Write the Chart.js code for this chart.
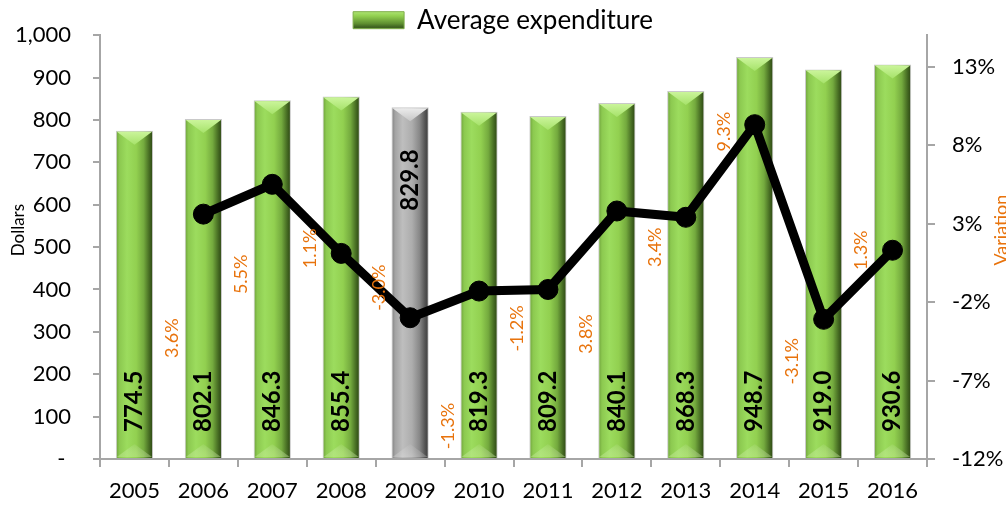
<!DOCTYPE html>
<html><head><meta charset="utf-8">
<script src="https://cdn.jsdelivr.net/npm/chart.js@4/dist/chart.umd.min.js"></script>
<style>html,body{margin:0;padding:0;background:#fff;overflow:hidden}</style>
</head><body>
<canvas id="c" width="1006" height="506"></canvas>
<script>
// ---- data ----
const years = ['2005','2006','2007','2008','2009','2010','2011','2012','2013','2014','2015','2016'];
const expenditure = [774.5, 802.1, 846.3, 855.4, 829.8, 819.3, 809.2, 840.1, 868.3, 948.7, 919.0, 930.6];
const variation = [null, 3.6, 5.5, 1.1, -3.0, -1.3, -1.2, 3.8, 3.4, 9.3, -3.1, 1.3];
const variationTicks = [-12, -7, -2, 3, 8, 13];
const highlightYear = '2009';
// label placement (pixel shift of each % label from its point)
const varLabelShift = [0, 124, 90, -5, -30, 135, 39, 123, 30, 7, 42, 0];

const FONT = 'Lato, "Open Sans", sans-serif';
Chart.defaults.font.family = FONT;
const ORANGE = '#E8730C';
const AXIS = '#A6A6A6';
const BAR_PCT = 0.54;

function barGradient(c) {
  const chart = c.chart;
  const xs = chart.scales && chart.scales.x;
  const gray = years[c.dataIndex] === highlightYear;
  if (!xs || c.type !== 'data') return gray ? '#AAAAAA' : '#92D050';
  const cx = xs.getPixelForValue(c.dataIndex);
  const w = (xs.width / years.length) * BAR_PCT;
  const g = chart.ctx.createLinearGradient(cx - w / 2, 0, cx + w / 2, 0);
  const stops = gray
    ? [[0, '#7E7E7E'], [0.1, '#A4A4A4'], [0.3, '#BEBEBE'], [0.55, '#ADADAD'], [0.75, '#888888'], [0.9, '#545454'], [1, '#3A3A3A']]
    : [[0, '#6C9E3A'], [0.1, '#8CC950'], [0.3, '#9CDC5E'], [0.55, '#92D050'], [0.75, '#74AA3E'], [0.9, '#456A22'], [1, '#2A4212']];
  stops.forEach(s => g.addColorStop(s[0], s[1]));
  return g;
}

const decor = {
  id: 'decor',
  beforeInit(chart) {
    const lg = chart.legend;
    if (!lg) return;
    const fit = lg.fit;
    lg.fit = function () { fit.call(this); this.height = 33; };
    const draw = lg.draw;
    lg.draw = function () {
      const ctx = this.ctx;
      ctx.save(); ctx.translate(0, 5); draw.call(this); ctx.restore();
    };
  },
  afterDatasetDraw(chart, args) {
    if (args.index !== 0) return;
    const ctx = chart.ctx;
    ctx.save();
    args.meta.data.forEach((bar, i) => {
      const p = bar.getProps(['x', 'y', 'base', 'width'], true);
      const gray = years[i] === highlightYear;
      const l = p.x - p.width / 2, r = p.x + p.width / 2;
      const bh = 14;
      // top bevel
      let g = ctx.createLinearGradient(0, p.y, 0, p.y + bh);
      g.addColorStop(0, gray ? '#EEEEEE' : '#CDF69E');
      g.addColorStop(1, gray ? '#C6C6C6' : '#A6E26A');
      ctx.beginPath();
      ctx.moveTo(l + 1, p.y + 1); ctx.lineTo(r - 1, p.y + 1); ctx.lineTo(p.x, p.y + bh); ctx.closePath();
      ctx.fillStyle = g; ctx.fill();
      // bottom bevel
      g = ctx.createLinearGradient(0, p.base - bh, 0, p.base);
      g.addColorStop(0, 'rgba(255,255,255,0.05)');
      g.addColorStop(1, gray ? 'rgba(255,255,255,0.25)' : 'rgba(200,240,150,0.45)');
      ctx.beginPath();
      ctx.moveTo(l + 1, p.base - 1); ctx.lineTo(r - 1, p.base - 1); ctx.lineTo(p.x, p.base - bh); ctx.closePath();
      ctx.fillStyle = g; ctx.fill();
      // value label
      ctx.save();
      ctx.font = 'bold 24px ' + FONT;
      ctx.fillStyle = '#000';
      ctx.textBaseline = 'middle';
      if (gray) {
        ctx.translate(p.x, p.y + 42);
        ctx.rotate(-Math.PI / 2);
        ctx.textAlign = 'right';
      } else {
        ctx.translate(p.x, p.base - 26);
        ctx.rotate(-Math.PI / 2);
        ctx.textAlign = 'left';
      }
      ctx.fillText(expenditure[i].toFixed(1), 0, 0);
      ctx.restore();
    });
    ctx.restore();
  },
  afterDatasetsDraw(chart) {
    const ctx = chart.ctx;
    const meta = chart.getDatasetMeta(1);
    const xs = chart.scales.x;
    const catW = xs.width / years.length;
    ctx.save();
    ctx.font = '18px ' + FONT;
    ctx.fillStyle = ORANGE;
    ctx.textAlign = 'center';
    ctx.textBaseline = 'middle';
    meta.data.forEach((pt, i) => {
      if (variation[i] === null) return;
      ctx.save();
      ctx.translate(pt.x - catW * 0.45, pt.y + varLabelShift[i]);
      ctx.rotate(-Math.PI / 2);
      ctx.fillText(variation[i].toFixed(1) + '%', 0, 0);
      ctx.restore();
    });
    ctx.restore();
  },
  afterDraw(chart) {
    const ctx = chart.ctx;
    const a = chart.chartArea;
    const mid = (a.top + a.bottom) / 2 - 17;
    ctx.save();
    ctx.textAlign = 'center';
    ctx.textBaseline = 'alphabetic';
    // right axis title
    ctx.font = '18px ' + FONT;
    ctx.fillStyle = ORANGE;
    ctx.save();
    ctx.translate(1007, mid);
    ctx.rotate(-Math.PI / 2);
    ctx.fillText('Variation', 0, 0);
    ctx.restore();
    // left axis title
    ctx.font = '17px ' + FONT;
    ctx.fillStyle = '#000';
    ctx.save();
    ctx.translate(24, mid);
    ctx.rotate(-Math.PI / 2);
    ctx.fillText('Dollars', 0, 0);
    ctx.restore();
    ctx.restore();
  }
};

new Chart(document.getElementById('c'), {
  data: {
    labels: years,
    datasets: [
      {
        type: 'bar', label: 'Average expenditure', data: expenditure, yAxisID: 'y', order: 2,
        barPercentage: BAR_PCT, categoryPercentage: 1,
        backgroundColor: barGradient, borderColor: 'rgba(195,195,195,0.9)', borderWidth: 1
      },
      {
        type: 'line', label: 'Variation', data: variation, yAxisID: 'y1', order: 1,
        borderColor: '#000', borderWidth: 9, tension: 0,
        pointRadius: 10, pointBackgroundColor: '#000', pointBorderColor: '#000', pointBorderWidth: 1,
        clip: false
      }
    ]
  },
  options: {
    responsive: false,
    animation: false,
    layout: { padding: 0 },
    plugins: {
      tooltip: { enabled: false },
      legend: {
        position: 'top', align: 'center',
        labels: {
          boxWidth: 51, boxHeight: 17, padding: 0, color: '#000', font: { size: 26 },
          generateLabels: (chart) => {
            const g = chart.ctx.createLinearGradient(0, 5, 0, 22);
            g.addColorStop(0, '#B8EC80'); g.addColorStop(0.35, '#92D050');
            g.addColorStop(0.8, '#5E8E30'); g.addColorStop(1, '#3E6220');
            return [{ text: 'Average expenditure', fillStyle: g, strokeStyle: '#7FAE4A', lineWidth: 1, datasetIndex: 0, hidden: false, fontColor: '#000' }];
          }
        }
      }
    },
    scales: {
      x: {
        offset: true,
        grid: { display: true, drawOnChartArea: false, offset: true, color: AXIS, tickLength: 8, lineWidth: 2 },
        border: { display: true, color: AXIS, width: 2 },
        ticks: { color: '#000', font: { size: 22 }, padding: 11, maxRotation: 0, autoSkip: false },
        afterFit: s => { s.height = 47; }
      },
      y: {
        position: 'left', min: 0, max: 1000,
        grid: { drawOnChartArea: false, color: AXIS, tickLength: 7, lineWidth: 2 },
        border: { color: AXIS, width: 2 },
        ticks: { stepSize: 100, autoSkip: false, color: '#000', font: { size: 22 }, padding: 22,
          callback: v => v === 0 ? '- ' : v.toLocaleString('en-US') },
        afterFit: s => { s.width = 100; }
      },
      y1: {
        position: 'right', min: -12, max: 15,
        afterBuildTicks: s => { s.ticks = variationTicks.map(v => ({ value: v })); },
        grid: { drawOnChartArea: false, color: AXIS, tickLength: 8, lineWidth: 2 },
        border: { color: AXIS, width: 2 },
        ticks: { color: '#000', font: { size: 22 }, padding: 17, autoSkip: false, callback: v => v + '%' },
        afterFit: s => { s.width = 79; }
      }
    }
  },
  plugins: [decor]
});
</script>
</body></html>
